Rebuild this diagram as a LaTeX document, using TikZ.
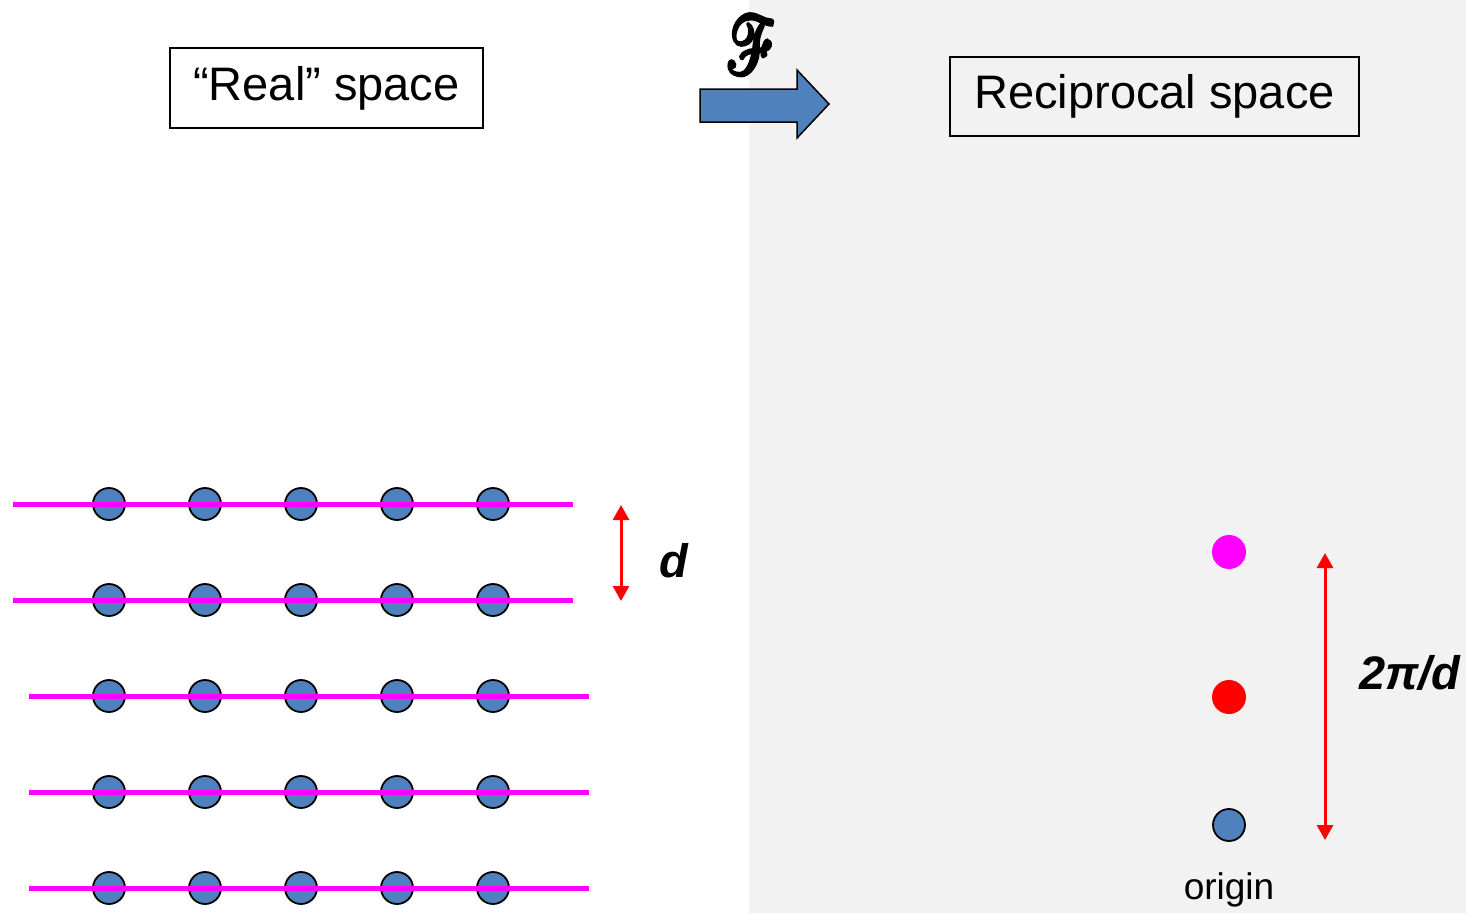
\documentclass[tikz,border=0pt]{standalone}
\usepackage{fontspec}
\setmainfont{Liberation Sans}
\usepackage{mathrsfs}
\usetikzlibrary{arrows.meta}
\definecolor{atomblue}{HTML}{4F81BD}
\definecolor{panelgray}{HTML}{F2F2F2}
\definecolor{planemag}{HTML}{FF00FF}
% glyphs filled and stroked, for a heavier script letter
\newcommand{\heavyglyph}[1]{\special{pdf:literal direct 2 Tr 0.45 w}#1\special{pdf:literal direct 0 Tr}}
\begin{document}
\begin{tikzpicture}[x=1pt,y=-1pt,
  atom/.style={circle,draw=black,line width=1.8pt,fill=atomblue,minimum size=32pt,inner sep=0pt},
  spot/.style={circle,minimum size=34pt,inner sep=0pt},
  plane/.style={planemag,line width=5pt},
  titlebox/.style={draw=black,line width=1.5pt,inner sep=0pt,font=\fontsize{47}{56}\selectfont},
  measure/.style={red,line width=3pt,{Triangle[length=15pt,width=16pt]}-{Triangle[length=15pt,width=16pt]}},
  biglabel/.style={font=\fontsize{47}{56}\selectfont\bfseries\itshape,inner sep=0pt}
]
\useasboundingbox (0,0) rectangle (1466,913);
% reciprocal-space panel
\fill[panelgray] (749,0) rectangle (1466,913);

% titles
\node[titlebox,minimum width=313pt,minimum height=80pt] (realtitle) at (326.5,88) {“Real” space};
\node[titlebox,minimum width=409pt,minimum height=79pt] (reciptitle) at (1154.5,96.5) {Reciprocal space};

% Fourier transform arrow
\draw[black,line width=1.5pt,fill=atomblue]
  (700,89) -- (797,89) -- (797,70) -- (829,104) -- (797,138) -- (797,122) -- (700,122) -- cycle;
\begin{scope}[shift={(751,45)},xslant=-0.28]
  \node[inner sep=0pt,transform shape,xscale=6.0,yscale=8.2] (ftsym) at (0,0) {\heavyglyph{$\mathscr{F}$}};
\end{scope}

% lattice planes and atoms
\foreach \r/\y/\xa/\xb in {1/504/13/573,2/600/13/573,3/696/29/589,4/792/29/589,5/888/29/589}{
  \coordinate (pl\r) at (\xa,\y);
  \coordinate (pr\r) at (\xb,\y);
  \foreach \c/\x in {1/109,2/205,3/301,4/397,5/493}
    \node[atom] (a\r\c) at (\x,\y) {};
  \draw[plane] (pl\r) -- (pr\r);
}

% interplanar spacing
\coordinate (dtop) at (621,505);
\coordinate (dbot) at (621,601);
\draw[measure] (dtop) -- (dbot);
\node[biglabel] (dlab) at (674,561) {d};

% reciprocal lattice points
\node[spot,fill=planemag] (g1) at (1229,552) {};
\node[spot,fill=red] (g0) at (1229,697) {};
\node[atom] (orig) at (1229,825) {};
\node[font=\fontsize{37}{42}\selectfont,inner sep=0pt] (origlab) at (1229,890) {origin};

\coordinate (ktop) at (1325,553);
\coordinate (kbot) at (1325,840);
\draw[measure] (ktop) -- (kbot);
\node[biglabel] (klab) at (1410,673) {2π/d};
\end{tikzpicture}
\end{document}
